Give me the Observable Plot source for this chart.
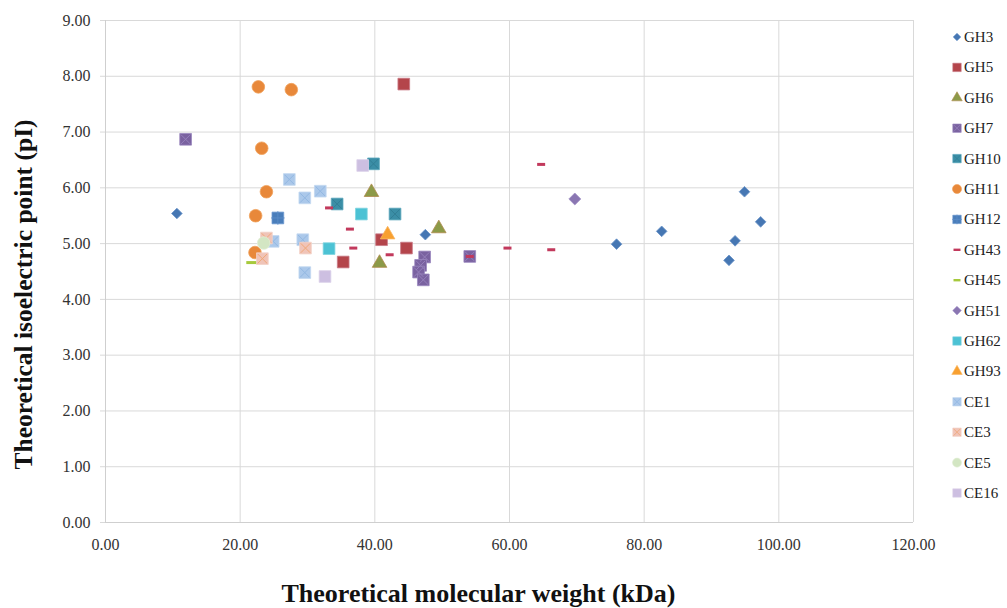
<!DOCTYPE html>
<html><head><meta charset="utf-8">
<script src="https://cdn.jsdelivr.net/npm/d3@7"></script>
<script src="https://cdn.jsdelivr.net/npm/@observablehq/plot@0.6"></script>
<style>
body{margin:0;background:#fff;overflow:hidden}
#wrap{position:relative;width:1007px;height:608px;overflow:hidden;background:#fff}
#legend{position:absolute;left:940px;top:0}
</style>
</head><body>
<div id="wrap"><div id="chart"></div><svg id="legend" width="67" height="608"></svg></div>
<script>
// ---- data: [molecular weight kDa, pI] ----
const xTicks = [0, 20, 40, 60, 80, 100, 120];
const yTicks = [0, 1, 2, 3, 4, 5, 6, 7, 8, 9];
const seriesNames = ["GH3","GH5","GH6","GH7","GH10","GH11","GH12","GH43","GH45","GH51","GH62","GH93","CE1","CE3","CE5","CE16"];

const GH3  = [[10.6,5.54],[47.5,5.16],[75.9,4.99],[82.6,5.22],[94.9,5.93],[97.3,5.39],[93.5,5.05],[92.6,4.70]];
const GH5  = [[44.3,7.86],[41.0,5.07],[44.7,4.92],[35.3,4.67]];
const GH6  = [[39.5,5.92],[40.7,4.65],[49.5,5.27]];
const GH7  = [[11.9,6.87],[47.4,4.76],[46.8,4.61],[46.5,4.49],[47.2,4.35],[54.1,4.77]];
const GH10 = [[39.8,6.43],[34.4,5.71],[43.0,5.53]];
const GH11 = [[22.7,7.81],[27.6,7.76],[23.2,6.71],[23.9,5.93],[22.3,5.50],[22.2,4.84]];
const GH12 = [[25.6,5.46]];
const GH43 = [[64.7,6.42],[59.7,4.92],[66.2,4.89],[54.1,4.77],[33.2,5.64],[36.3,5.26],[36.8,4.92],[42.2,4.80]];
const GH45 = [[21.8,4.66]];
const GH51 = [[69.7,5.80]];
const GH62 = [[38.0,5.53],[33.2,4.91]];
const GH93 = [[41.9,5.16]];
const CE1  = [[27.3,6.15],[29.6,5.82],[31.9,5.94],[24.9,5.04],[29.3,5.07],[29.6,4.48]];
const CE3  = [[23.9,5.10],[29.7,4.92],[23.3,4.73]];
const CE5  = [[23.5,5.01]];
const CE16 = [[38.2,6.40],[32.6,4.41]];

const seriesData = [GH3,GH5,GH6,GH7,GH10,GH11,GH12,GH43,GH45,GH51,GH62,GH93,CE1,CE3,CE5,CE16];

// ---- styles ----
const dash = w => ({draw(ctx){ ctx.moveTo(-w/2,-1.5); ctx.lineTo(w/2,-1.5); ctx.lineTo(w/2,1.5); ctx.lineTo(-w/2,1.5); ctx.closePath(); }});
const styles = {
  GH3:  {symbol:"diamond2", r:4.8, fill:"#4677b3", stroke:"#6a93c8"},
  GH5:  {symbol:"square", r:6.6, fill:"#b4454b", stroke:"#c97a86"},
  GH6:  {symbol:"triangle", r:5.4, fill:"#8c9a48", stroke:"#b08a4e"},
  GH7:  {symbol:"square", r:6.6, fill:"#7a62a0", stroke:"#9b88bf", over:"times", overStroke:"#9580bb"},
  GH10: {symbol:"square", r:6.6, fill:"#3b8ea6", stroke:"#5aa7bd", over:"times", overStroke:"#327f96"},
  GH11: {symbol:"circle", r:6.3, fill:"#e8883a", stroke:"#f0a15a"},
  GH12: {symbol:"square", r:6.6, fill:"#4a7ebb", stroke:"#6c98cf", over:"plus", overStroke:"#5a8bc6"},
  GH43: {symbol:dash(8), r:4, fill:"#c2395c", stroke:"none"},
  GH45: {symbol:dash(12), r:4, fill:"#a6c93c", stroke:"none"},
  GH51: {symbol:"diamond2", r:5.4, fill:"#8a76b2", stroke:"#a393c6"},
  GH62: {symbol:"square", r:6.6, fill:"#4cc2d4", stroke:"#7fd4e0"},
  GH93: {symbol:"triangle", r:5.4, fill:"#f8a030", stroke:"#f9b560"},
  CE1:  {symbol:"square", r:6.6, fill:"#abc8ea", stroke:"#c3d8f0", over:"times", overStroke:"#93b8e2"},
  CE3:  {symbol:"square", r:6.6, fill:"#f0c4b8", stroke:"#f3d2c8", over:"times", overStroke:"#f0a878"},
  CE5:  {symbol:"circle", r:6.3, fill:"#d3e6c3", stroke:"#e2eed6"},
  CE16: {symbol:"square", r:6.6, fill:"#cdbfe1", stroke:"#dcd2ea"}
};

const grid = "#d9d9d9";
const marks = [
  Plot.gridX(xTicks, {stroke: grid, strokeOpacity: 1}),
  Plot.gridY(yTicks, {stroke: grid, strokeOpacity: 1}),
  Plot.ruleY([0], {stroke: "#cfcfcf"}),
  Plot.ruleX([0], {stroke: "#cfcfcf"}),
  Plot.axisX(xTicks, {tickSize: 0, tickPadding: 16, tickFormat: d => d.toFixed(2), label: null, fontSize: 16, fill: "#333"}),
  Plot.axisY(yTicks, {tickSize: 5, tickPadding: 10, stroke: grid, tickFormat: d => d.toFixed(2), label: null, fontSize: 16, fill: "#333"}),
  Plot.text(["Theoretical molecular weight (kDa)"], {frameAnchor: "bottom", dx: -31, dy: 71, lineAnchor: "middle", textAnchor: "middle", fontSize: 26, fontWeight: "bold", fill: "#111"}),
  Plot.text(["Theoretical isoelectric point (pI)"], {frameAnchor: "left", rotate: -90, dx: -82, dy: 23, lineAnchor: "middle", textAnchor: "middle", fontSize: 25.5, fontWeight: "bold", fill: "#111"})
];

seriesNames.forEach((name, i) => {
  const s = styles[name];
  const data = seriesData[i];
  marks.push(Plot.dot(data, {x: d => d[0], y: d => d[1], symbol: s.symbol, r: s.r, fill: s.fill, stroke: s.stroke, strokeWidth: 0.8}));
  if (s.over) {
    marks.push(Plot.dot(data, {x: d => d[0], y: d => d[1], symbol: s.over, r: s.r * 0.66, stroke: s.overStroke, strokeWidth: 1, fill: "none"}));
  }
});

const chart = Plot.plot({
  width: 1007, height: 608,
  marginLeft: 105, marginRight: 94, marginTop: 20, marginBottom: 86,
  x: {domain: [0, 120]},
  y: {domain: [0, 9]},
  style: {fontFamily: "'Liberation Serif', 'DejaVu Serif', serif", fontSize: "16px", background: "#fff"},
  marks
});
document.getElementById("chart").append(chart);

// ---- legend ----
const lg = d3.select("#legend");
const symMap = {diamond2: d3.symbolDiamond2, square: d3.symbolSquare, triangle: d3.symbolTriangle, circle: d3.symbolCircle, times: d3.symbolTimes, plus: d3.symbolPlus};
seriesNames.forEach((name, i) => {
  const s = styles[name];
  const cy = 37 + i * 30.4;
  const g = lg.append("g").attr("transform", `translate(17,${cy})`);
  const rr = s.r * 0.72;
  const type = typeof s.symbol === "string" ? symMap[s.symbol] : {draw(ctx){ ctx.moveTo(-3.5,-1.2); ctx.lineTo(3.5,-1.2); ctx.lineTo(3.5,1.2); ctx.lineTo(-3.5,1.2); ctx.closePath(); }};
  g.append("path").attr("d", d3.symbol(type, Math.PI * rr * rr)()).attr("fill", s.fill).attr("stroke", s.stroke === "none" ? null : s.stroke).attr("stroke-width", 0.6);
  if (s.over) g.append("path").attr("d", d3.symbol(symMap[s.over], Math.PI * rr * rr * 0.45)()).attr("fill", "none").attr("stroke", s.overStroke).attr("stroke-width", 0.8);
  lg.append("text").attr("x", 24).attr("y", cy + 5).attr("font-family", "'Liberation Serif', serif").attr("font-size", 15).attr("fill", "#222").text(name);
});
</script>
</body></html>
